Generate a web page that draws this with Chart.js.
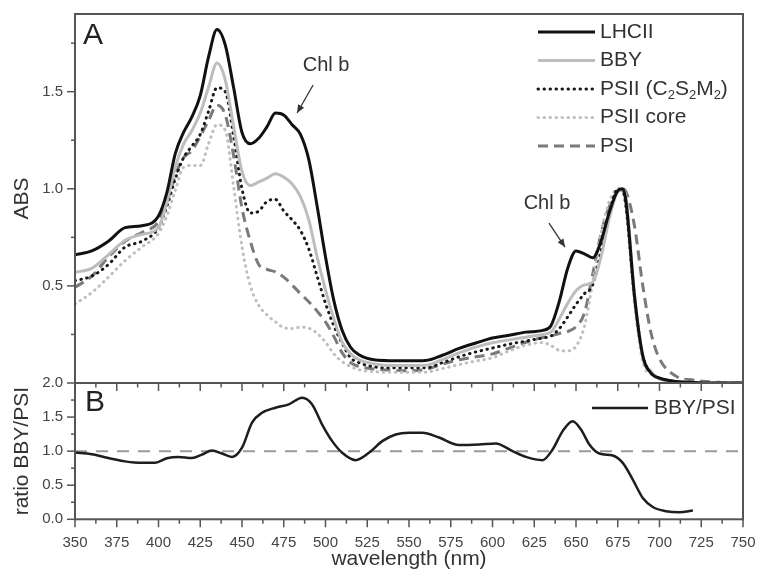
<!DOCTYPE html>
<html>
<head>
<meta charset="utf-8">
<script src="https://cdn.jsdelivr.net/npm/chart.js@4.4.1/dist/chart.umd.min.js"></script>
<style>
  body { margin: 0; background: #fff; }
  #wrap { position: relative; width: 758px; height: 570px; }
  canvas { position: absolute; left: 0; }
  #chartA { top: 0; }
  #chartB { top: 370px; }
</style>
</head>
<body>
<div id="wrap">
  <canvas id="chartA" width="758" height="390"></canvas>
  <canvas id="chartB" width="758" height="200"></canvas>
</div>
<script>
// wavelength grid (nm) shared by the absorption spectra of panel A
const wavelengths = [350, 360, 370, 380, 390, 400, 405, 410, 415, 420, 425, 430, 435, 440, 445, 450,
    455, 460, 465, 470, 475, 480, 485, 490, 495, 500, 505, 510, 515, 520,
    530, 540, 550, 560, 570, 580, 590, 600, 610, 620, 630,
    635, 640, 645, 650, 655, 660, 665, 670, 675, 678, 680, 685, 690, 695, 700, 710, 720, 735, 750];

const lhcii = [0.66, 0.68, 0.73, 0.80, 0.81, 0.86, 0.98, 1.18, 1.29, 1.37, 1.48, 1.68, 1.82, 1.74, 1.52, 1.29,
    1.232, 1.26, 1.32, 1.39, 1.38, 1.33, 1.28, 1.15, 0.91, 0.65, 0.424, 0.27, 0.184, 0.145,
    0.118, 0.115, 0.114, 0.116, 0.143, 0.178, 0.206, 0.232, 0.246, 0.262, 0.271,
    0.295, 0.42, 0.59, 0.68, 0.665, 0.645, 0.73, 0.88, 0.99, 1.0, 0.93, 0.45, 0.14, 0.05, 0.025, 0.008, 0.003, 0, 0];

const bby = [0.57, 0.59, 0.66, 0.735, 0.765, 0.80, 0.93, 1.11, 1.23, 1.30, 1.39, 1.524, 1.648, 1.56, 1.32, 1.09,
    1.017, 1.035, 1.055, 1.077, 1.06, 1.025, 0.96, 0.84, 0.648, 0.48, 0.33, 0.21, 0.15, 0.12,
    0.097, 0.09, 0.09, 0.091, 0.12, 0.155, 0.185, 0.207, 0.222, 0.236, 0.25,
    0.262, 0.33, 0.41, 0.475, 0.505, 0.52, 0.65, 0.85, 0.985, 0.995, 0.95, 0.46, 0.13, 0.06, 0.02, 0.008, 0.003, 0, 0];

const psii = [0.527, 0.55, 0.61, 0.70, 0.73, 0.80, 0.91, 1.05, 1.16, 1.22, 1.28, 1.40, 1.52, 1.50, 1.27, 1.00,
    0.875, 0.885, 0.935, 0.945, 0.886, 0.84, 0.785, 0.69, 0.55, 0.41, 0.295, 0.205, 0.13, 0.105,
    0.082, 0.078, 0.078, 0.078, 0.105, 0.135, 0.16, 0.18, 0.20, 0.216, 0.232,
    0.242, 0.28, 0.34, 0.405, 0.46, 0.505, 0.68, 0.88, 0.995, 0.99, 0.90, 0.44, 0.14, 0.055, 0.025, 0.008, 0.003, 0, 0];

const psiiCore = [0.407, 0.465, 0.545, 0.63, 0.70, 0.77, 0.86, 0.991, 1.11, 1.12, 1.12, 1.232, 1.33, 1.30, 1.01, 0.70,
    0.50, 0.40, 0.35, 0.315, 0.285, 0.28, 0.287, 0.282, 0.255, 0.21, 0.15, 0.11, 0.085, 0.068,
    0.058, 0.055, 0.055, 0.056, 0.074, 0.095, 0.113, 0.13, 0.165, 0.195, 0.208,
    0.193, 0.168, 0.165, 0.19, 0.29, 0.52, 0.77, 0.935, 1.0, 0.985, 0.90, 0.41, 0.11, 0.045, 0.022, 0.008, 0.003, 0, 0];

const psi = [0.493, 0.55, 0.648, 0.73, 0.775, 0.83, 0.93, 1.07, 1.16, 1.197, 1.27, 1.352, 1.43, 1.38, 1.17, 0.90,
    0.73, 0.61, 0.585, 0.572, 0.545, 0.505, 0.46, 0.418, 0.37, 0.315, 0.24, 0.155, 0.105, 0.085,
    0.071, 0.066, 0.063, 0.07, 0.097, 0.12, 0.135, 0.15, 0.18, 0.21, 0.234,
    0.242, 0.255, 0.265, 0.29, 0.36, 0.56, 0.77, 0.91, 0.985, 1.0, 0.985, 0.81, 0.50, 0.255, 0.125, 0.035, 0.015, 0.004, 0];

const seriesNames = ['LHCII', 'BBY', 'PSII (C\u2082S\u2082M\u2082)', 'PSII core', 'PSI'];

// panel B: BBY/PSI ratio
const ratioWl = [350, 360, 370, 380, 390, 398, 405, 412, 420, 426, 432, 438, 444, 450, 456, 462, 470, 478, 486, 492,
    498, 504, 510, 518, 526, 534, 542, 550, 558, 568, 580, 592, 602, 612, 620, 630, 636, 642, 648, 653,
    658, 664, 672, 678, 684, 690, 696, 704, 712, 720];
const ratio = [0.98, 0.955, 0.90, 0.85, 0.828, 0.83, 0.895, 0.915, 0.90, 0.95, 1.01, 0.965, 0.915, 1.05, 1.42, 1.563, 1.637, 1.686, 1.784, 1.686,
    1.39, 1.147, 0.976, 0.868, 0.976, 1.147, 1.245, 1.27, 1.27, 1.20, 1.09, 1.098, 1.113, 1.0, 0.916, 0.868, 1.025, 1.294, 1.44, 1.318,
    1.098, 0.965, 0.936, 0.828, 0.583, 0.313, 0.181, 0.118, 0.103, 0.13];
const refWl = [350, 750];
const refLevel = [1, 1];

const absTicks = {min: 0, max: 1.9, step: 0.25, labelStep: 0.5};
const ratioTicks = {min: 0, max: 2, step: 0.25, labelStep: 0.5};
const wlTicks = {min: 350, max: 750, step: 12.5, labelStep: 25};

const FONT = '"Liberation Sans", Arial, Helvetica, sans-serif';
const AXIS = '#555';
const TEXT = '#333';

const isMult = (v, s) => Math.abs(v / s - Math.round(v / s)) < 1e-6;
const pts = (xs, ys) => xs.map((x, i) => ({x: x, y: ys[i]}));

// fixed axis sizes so both panels share the same plot edges
function fixY(s) { s.width = 75; s.paddingTop = 0; s.paddingBottom = 0; }
function fixX(s) { s.height = 50.7; s.paddingLeft = 0; s.paddingRight = 0; }

function drawRich(ctx, text, x, y, size) {
    // unicode subscript digits are drawn as small lowered digits
    const parts = text.split(/([\u2080-\u2089]+)/);
    let cx = x;
    parts.forEach(p => {
        if (!p) return;
        if (p.charCodeAt(0) >= 0x2080 && p.charCodeAt(0) <= 0x2089) {
            const s = Array.from(p).map(c => String.fromCharCode(c.charCodeAt(0) - 0x2080 + 48)).join('');
            ctx.font = Math.round(size * 0.62) + 'px ' + FONT;
            ctx.fillText(s, cx, y + size * 0.3);
            cx += ctx.measureText(s).width;
        } else {
            ctx.font = size + 'px ' + FONT;
            ctx.fillText(p, cx, y);
            cx += ctx.measureText(p).width;
        }
    });
}

function line(ctx, x1, y1, x2, y2) {
    ctx.beginPath();
    ctx.moveTo(x1, y1);
    ctx.lineTo(x2, y2);
    ctx.stroke();
}

function makeFrame(cfg) {
    return {
        id: 'frame' + cfg.name,
        afterDatasetsDraw(chart) {
            const ctx = chart.ctx, a = chart.chartArea;
            const ys = chart.scales.y, xs = chart.scales.x;
            ctx.save();
            ctx.strokeStyle = AXIS;
            ctx.lineWidth = 2;
            ctx.strokeRect(a.left, a.top, a.right - a.left, a.bottom - a.top);
            ctx.lineWidth = 1.5;
            ys.ticks.forEach(t => {
                if (!isMult(t.value, cfg.y.step) || t.value > cfg.y.max) return;
                if (cfg.skipZero && t.value === 0) return;
                const py = ys.getPixelForValue(t.value);
                const len = isMult(t.value, cfg.y.labelStep) ? 8 : 4;
                line(ctx, a.left - len, py, a.left, py);
            });
            if (cfg.xTicks) {
                xs.ticks.forEach(t => {
                    if (!isMult(t.value - 350, 12.5)) return;
                    const px = xs.getPixelForValue(t.value);
                    const len = isMult(t.value, 25) ? 8 : 4.5;
                    line(ctx, px, a.bottom, px, a.bottom + len);
                    line(ctx, px, a.top, px, a.top + len);
                });
            }
            ctx.restore();
        }
    };
}

const legendA = {
    id: 'legendA',
    afterDraw(chart) {
        const ctx = chart.ctx;
        ctx.save();
        chart.data.datasets.forEach((ds, i) => {
            const y = 32 + i * 28.5;
            ctx.strokeStyle = ds.borderColor;
            ctx.lineWidth = ds.borderWidth;
            ctx.lineCap = ds.borderCapStyle || 'butt';
            ctx.setLineDash(ds.borderDash || []);
            line(ctx, 538, y, 595, y);
            ctx.setLineDash([]);
            ctx.fillStyle = TEXT;
            ctx.textBaseline = 'middle';
            drawRich(ctx, ds.label, 600, y, 21);
        });
        ctx.font = '30px ' + FONT;
        ctx.textBaseline = 'middle';
        ctx.fillStyle = '#222';
        ctx.fillText('A', 83, 36);
        ctx.restore();
    }
};

const notesA = {
    id: 'notesA',
    afterDraw(chart) {
        const ctx = chart.ctx, xs = chart.scales.x, ys = chart.scales.y;
        const notes = [
            {nm: 483, abs: 1.39, text: [29, -48], tail: [16, -28]},
            {nm: 643.4, abs: 0.70, text: [-18, -44], tail: [-16, -24]}
        ];
        ctx.save();
        notes.forEach(n => {
            const hx = xs.getPixelForValue(n.nm), hy = ys.getPixelForValue(n.abs);
            const tx = hx + n.tail[0], ty = hy + n.tail[1];
            ctx.strokeStyle = '#333';
            ctx.fillStyle = '#333';
            ctx.lineWidth = 1.3;
            line(ctx, tx, ty, hx, hy);
            const ang = Math.atan2(hy - ty, hx - tx);
            ctx.beginPath();
            ctx.moveTo(hx, hy);
            ctx.lineTo(hx - 8 * Math.cos(ang) + 3.5 * Math.sin(ang), hy - 8 * Math.sin(ang) - 3.5 * Math.cos(ang));
            ctx.lineTo(hx - 8 * Math.cos(ang) - 3.5 * Math.sin(ang), hy - 8 * Math.sin(ang) + 3.5 * Math.cos(ang));
            ctx.closePath();
            ctx.fill();
            ctx.font = '20px ' + FONT;
            ctx.textAlign = 'center';
            ctx.textBaseline = 'middle';
            ctx.fillText('Chl b', hx + n.text[0], hy + n.text[1]);
        });
        ctx.restore();
    }
};

const legendB = {
    id: 'legendB',
    afterDraw(chart) {
        const ctx = chart.ctx;
        const ds = chart.data.datasets[0];
        ctx.save();
        ctx.strokeStyle = ds.borderColor;
        ctx.lineWidth = ds.borderWidth;
        line(ctx, 592, 38, 648, 38);
        ctx.fillStyle = TEXT;
        ctx.font = '21px ' + FONT;
        ctx.textBaseline = 'middle';
        ctx.fillText(ds.label, 654, 38);
        ctx.font = '30px ' + FONT;
        ctx.fillStyle = '#222';
        ctx.fillText('B', 85, 33);
        ctx.restore();
    }
};

const tickFont = {family: FONT, size: 15};
const titleFont = {family: FONT, size: 21};

new Chart(document.getElementById('chartA'), {
    type: 'line',
    data: {
        datasets: [
            {label: seriesNames[0], data: pts(wavelengths, lhcii), borderColor: '#111', borderWidth: 3},
            {label: seriesNames[1], data: pts(wavelengths, bby), borderColor: '#bdbdbd', borderWidth: 3},
            {label: seriesNames[2], data: pts(wavelengths, psii), borderColor: '#1a1a1a', borderWidth: 3,
                borderDash: [0.5, 5.5], borderCapStyle: 'round'},
            {label: seriesNames[3], data: pts(wavelengths, psiiCore), borderColor: '#bfbfbf', borderWidth: 3,
                borderDash: [0.5, 5.5], borderCapStyle: 'round'},
            {label: seriesNames[4], data: pts(wavelengths, psi), borderColor: '#7a7a7a', borderWidth: 3,
                borderDash: [10, 6]}
        ]
    },
    options: {
        responsive: false,
        animation: false,
        layout: {padding: {left: 0, right: 15, top: 14, bottom: 7}},
        elements: {point: {radius: 0}, line: {cubicInterpolationMode: 'monotone', fill: false}},
        plugins: {legend: {display: false}, tooltip: {enabled: false}},
        scales: {
            x: {type: 'linear', min: wlTicks.min, max: wlTicks.max, display: false},
            y: {
                min: absTicks.min, max: absTicks.max,
                afterFit: fixY,
                border: {display: false},
                grid: {display: false, drawTicks: false},
                ticks: {
                    stepSize: absTicks.step, padding: 12, color: '#444', font: tickFont, autoSkip: false,
                    callback: v => (isMult(v, absTicks.labelStep) && v > 0 && v < absTicks.max) ? v.toFixed(1) : ''
                },
                title: {display: true, text: 'ABS', color: TEXT, font: titleFont, padding: {top: 10}}
            }
        }
    },
    plugins: [makeFrame({name: 'A', y: absTicks, skipZero: true, xTicks: false}), legendA, notesA]
});

new Chart(document.getElementById('chartB'), {
    type: 'line',
    data: {
        datasets: [
            {label: 'BBY/PSI', data: pts(ratioWl, ratio), borderColor: '#1e1e1e', borderWidth: 2.5},
            {label: 'ref', data: pts(refWl, refLevel), borderColor: '#9a9a9a', borderWidth: 2, borderDash: [12, 9]}
        ]
    },
    options: {
        responsive: false,
        animation: false,
        layout: {padding: {left: 0, right: 15, top: 13, bottom: 0}},
        elements: {point: {radius: 0}, line: {cubicInterpolationMode: 'monotone', fill: false}},
        plugins: {legend: {display: false}, tooltip: {enabled: false}},
        scales: {
            x: {
                type: 'linear', min: wlTicks.min, max: wlTicks.max,
                afterFit: fixX,
                border: {display: false},
                grid: {display: false, drawTicks: false},
                ticks: {
                    stepSize: wlTicks.step, padding: 15, color: '#444', font: tickFont, autoSkip: false, maxRotation: 0,
                    callback: v => isMult(v, wlTicks.labelStep) ? String(v) : ''
                },
                title: {display: true, text: 'wavelength (nm)', color: TEXT, font: {family: FONT, size: 21, lineHeight: 1}, padding: {top: 0, bottom: 0}}
            },
            y: {
                min: ratioTicks.min, max: ratioTicks.max,
                afterFit: fixY,
                border: {display: false},
                grid: {display: false, drawTicks: false},
                ticks: {
                    stepSize: ratioTicks.step, padding: 12, color: '#444', font: tickFont, autoSkip: false,
                    callback: v => isMult(v, ratioTicks.labelStep) ? v.toFixed(1) : ''
                },
                title: {display: true, text: 'ratio BBY/PSI', color: TEXT, font: titleFont, padding: {top: 10}}
            }
        }
    },
    plugins: [makeFrame({name: 'B', y: ratioTicks, skipZero: false, xTicks: true}), legendB]
});
</script>
</body>
</html>
